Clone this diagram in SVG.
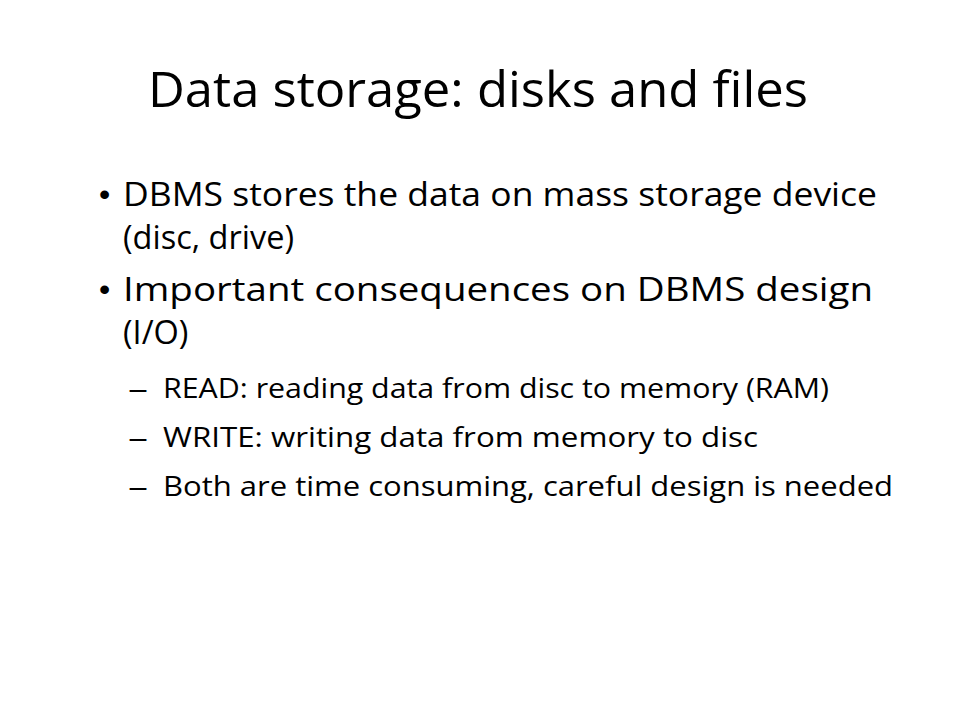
<svg xmlns="http://www.w3.org/2000/svg" width="960" height="720" viewBox="0 0 960 720">
<style>
.t{font-family:"Open Sans","Noto Sans","Liberation Sans",sans-serif;fill:#000}
.title{font-size:50px}
.b{font-size:32.5px}
.s{font-size:28px}
.dot{font-family:"Liberation Sans",Arial,sans-serif;font-size:32px;fill:#000}
</style>
<rect width="960" height="720" fill="#fff"/>
<g id="title"><text class="t title" x="148" y="107" textLength="660" lengthAdjust="spacingAndGlyphs">Data storage: disks and files</text></g>
<g id="bullet1">
<text class="dot" x="99" y="205">•</text>
<text class="t b" x="123" y="206" textLength="754" lengthAdjust="spacingAndGlyphs">DBMS stores the data on mass storage device</text>
<text class="t b" x="123" y="249">(disc, drive)</text>
</g>
<g id="bullet2">
<text class="dot" x="99" y="300">•</text>
<text class="t b" x="123" y="301" textLength="750" lengthAdjust="spacingAndGlyphs">Important consequences on DBMS design</text>
<text class="t b" x="123" y="344">(I/O)</text>
</g>
<g id="sub1">
<text class="t s" x="128" y="398" textLength="20" lengthAdjust="spacingAndGlyphs">–</text>
<text class="t s" x="163" y="398" textLength="666" lengthAdjust="spacingAndGlyphs">READ: reading data from disc to memory (RAM)</text>
</g>
<g id="sub2">
<text class="t s" x="128" y="447" textLength="20" lengthAdjust="spacingAndGlyphs">–</text>
<text class="t s" x="163" y="447" textLength="595" lengthAdjust="spacingAndGlyphs">WRITE: writing data from memory to disc</text>
</g>
<g id="sub3">
<text class="t s" x="128" y="496" textLength="20" lengthAdjust="spacingAndGlyphs">–</text>
<text class="t s" x="163" y="496" textLength="730" lengthAdjust="spacingAndGlyphs">Both are time consuming, careful design is needed</text>
</g>
<g id="connectors"></g>
</svg>
